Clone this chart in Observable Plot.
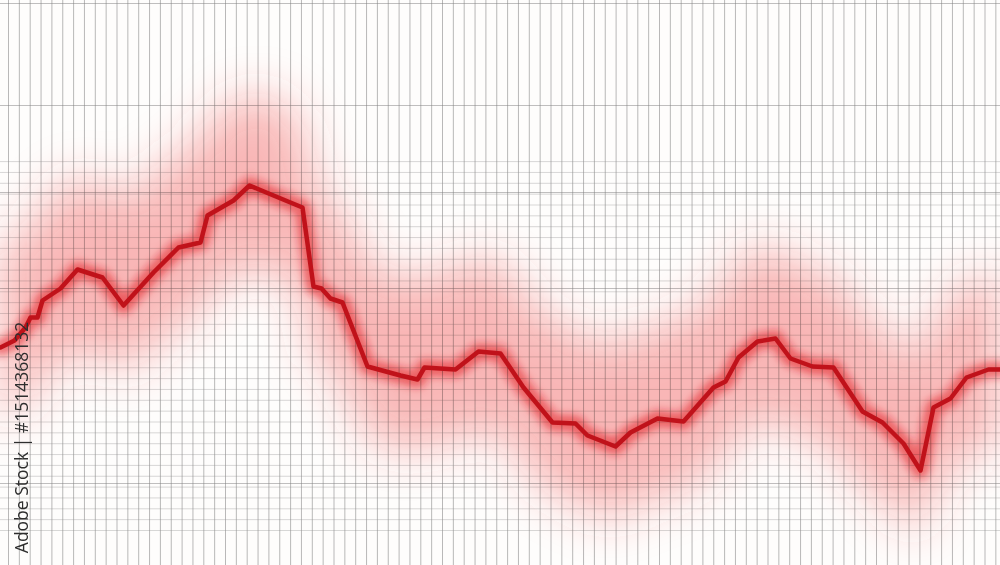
<!DOCTYPE html>
<html>
<head>
<meta charset="utf-8">
<script src="https://cdn.jsdelivr.net/npm/d3@7"></script>
<script src="https://cdn.jsdelivr.net/npm/@observablehq/plot@0.6"></script>
<style>
  html, body { margin: 0; padding: 0; background: #fefdfc; }
  #chart { width: 1000px; height: 565px; overflow: hidden; }
  svg { display: block; }
</style>
</head>
<body>
<div id="chart"></div>
<script>
// ---- data ----
const t = [0,14,25,30,37,42,60,77,102,123,153,178,200,207,233,249,273,302,313,321,330,342,367,400,417,424,455,478,500,523,552,575,587,615,630,657,683,713,725,738,757,775,790,812,833,862,882,903,920,933,950,966,988,1000];
const price = [218,225,238,248,248,265,277,296,288,260,293,318,323,350,365,380,370,358,279,277,267,263,199,190,186,198,196,214,212,178,143,142,130,119,133,147,144,178,184,208,224,227,207,199,198,154,143,122,95,158,167,188,196,196];
const majorRows = [562, 460, 373, 277, 82];
const watermarkText = ["Adobe Stock | #1514368132"];

const data = t.map((x, i) => ({x, v: price[i]}));

// grid positions (background graph paper)
const gridX = d3.range(8, 1001, 10.85);
const gridY = d3.range(35, 406, 10.85);

const chart = Plot.plot({
  width: 1000,
  height: 565,
  margin: 0,
  x: {domain: [0, 1000], axis: null},
  y: {domain: [0, 565], axis: null},
  style: {background: "#fefdfc"},
  marks: [
    Plot.ruleX(gridX, {stroke: "#808080", strokeOpacity: 0.55, strokeWidth: 1}),
    Plot.ruleY(gridY, {stroke: "#909090", strokeOpacity: 0.35, strokeWidth: 1}),
    Plot.ruleY(majorRows, {stroke: "#808080", strokeOpacity: 0.5, strokeWidth: 1}),
    Plot.areaY(data, {x: "x", y1: d => d.v - 75, y2: d => d.v + 95, fill: "#f03c3c", fillOpacity: 0.36, curve: "basis"}),
    Plot.line(data, {x: "x", y: "v", stroke: "#e81c24", strokeWidth: 16, strokeOpacity: 0.55}),
    Plot.line(data, {x: "x", y: "v", stroke: "#c0121a", strokeWidth: 4.5, strokeLinejoin: "round"}),
    Plot.text(watermarkText, {x: 22, y: 128, text: d => d, rotate: -90, fontSize: 17.5, fill: "#2e2e2e", fontFamily: "Open Sans, sans-serif"})
  ]
});

// soft glow filters
const ns = "http://www.w3.org/2000/svg";
const defs = document.createElementNS(ns, "defs");
defs.innerHTML = `
  <filter id="blurBig" x="-10%" y="-60%" width="120%" height="220%"><feGaussianBlur stdDeviation="24"/></filter>
  <filter id="blurSmall" x="-5%" y="-30%" width="110%" height="160%"><feGaussianBlur stdDeviation="4.5"/></filter>`;
chart.insertBefore(defs, chart.firstChild);
const area = chart.querySelector('g[aria-label="area"]');
if (area) { area.setAttribute("filter", "url(#blurBig)"); area.style.mixBlendMode = "multiply"; }
const lines = chart.querySelectorAll('g[aria-label="line"]');
if (lines[0]) { lines[0].setAttribute("filter", "url(#blurSmall)"); lines[0].style.mixBlendMode = "multiply"; }
document.getElementById("chart").appendChild(chart);
</script>
</body>
</html>
